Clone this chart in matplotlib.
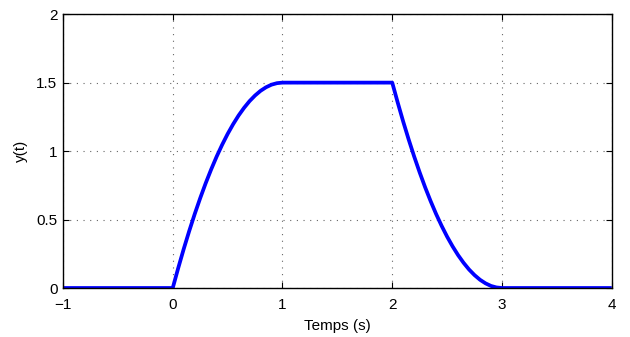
import matplotlib
matplotlib.use("Agg")
import matplotlib.pyplot as plt

plt.rcParams['font.family'] = ['Liberation Sans', 'DejaVu Sans']

# values
t_vals = [-1.0, 0.0, 0.05, 0.1, 0.15, 0.2, 0.25, 0.3, 0.35, 0.4, 0.45, 0.5,
          0.55, 0.6, 0.65, 0.7, 0.75, 0.8, 0.85, 0.9, 0.95, 1.0,
          2.0, 2.05, 2.1, 2.15, 2.2, 2.25, 2.3, 2.35, 2.4, 2.45, 2.5,
          2.55, 2.6, 2.65, 2.7, 2.75, 2.8, 2.85, 2.9, 2.95, 3.0, 4.0]
y_vals = [0.0, 0.0, 0.146, 0.285, 0.416, 0.54, 0.656, 0.765, 0.866, 0.96, 1.046, 1.125,
          1.196, 1.26, 1.316, 1.365, 1.406, 1.44, 1.466, 1.485, 1.496, 1.5,
          1.5, 1.354, 1.215, 1.084, 0.96, 0.844, 0.735, 0.634, 0.54, 0.454, 0.375,
          0.304, 0.24, 0.184, 0.135, 0.094, 0.06, 0.034, 0.015, 0.004, 0.0, 0.0]
x_ticks = [-1, 0, 1, 2, 3, 4]
x_tick_labels = ['\u22121', '0', '1', '2', '3', '4']
y_ticks = [0, 0.5, 1, 1.5, 2]
y_tick_labels = ['0', '0.5', '1', '1.5', '2']

fig = plt.figure(figsize=(6.3, 3.37), dpi=100)
ax = fig.add_axes([0.1, 0.1454, 0.871, 0.8126])
ax.plot(t_vals, y_vals, color='#0000ff', lw=2.7, solid_joinstyle='round', solid_capstyle='butt')
ax.set_xlim(-1, 4)
ax.set_ylim(0, 2)
ax.set_xticks(x_ticks)
ax.set_xticklabels(x_tick_labels)
ax.set_yticks(y_ticks)
ax.set_yticklabels(y_tick_labels)
ax.grid(True, linestyle=(0, (1, 5)), color='#666666', lw=0.8)
ax.tick_params(direction='in', top=True, right=True, labelsize=11, length=4, width=0.8)
ax.tick_params(axis='x', pad=7)
ax.tick_params(axis='y', pad=4)
for s in ax.spines.values():
    s.set_linewidth(1.0)
ax.set_xlabel('Temps (s)', fontsize=11, labelpad=5)
ax.set_ylabel('y(t)', fontsize=11, labelpad=6)
fig.savefig('out.png', dpi=100)
